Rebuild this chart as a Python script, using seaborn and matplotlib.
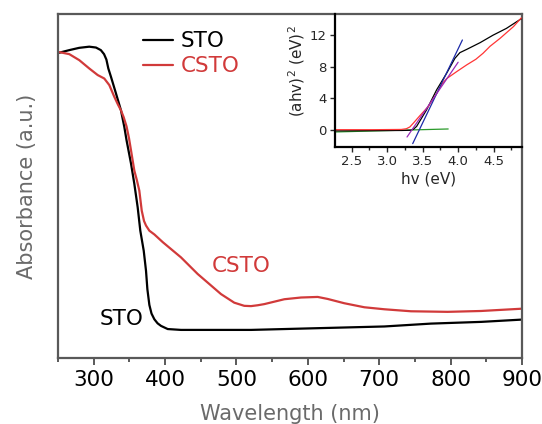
import matplotlib
matplotlib.use("Agg")
import matplotlib.pyplot as plt
from matplotlib.ticker import MultipleLocator
import seaborn as sns

# UV-vis absorbance spectra (arbitrary units)
wl_sto = [251.8, 265.8, 279.8, 293.8, 303.2, 310.0, 314.5, 317.8, 320.5, 324.2,
          331.2, 338.2, 342.9, 346.0, 352.3, 356.9, 361.6, 365.3, 370.1, 373.3,
          375.2, 378.0, 381.0, 385.0, 389.5, 394.3, 403.7, 422.3, 459.7, 520.4,
          613.8, 707.2, 772.5, 842.9, 900.0]
abs_sto = [1.065, 1.074, 1.082, 1.086, 1.083, 1.074, 1.060, 1.041, 1.010, 0.981,
           0.923, 0.864, 0.806, 0.760, 0.678, 0.608, 0.526, 0.444, 0.374, 0.304,
           0.240, 0.185, 0.155, 0.135, 0.121, 0.112, 0.101, 0.098, 0.098, 0.098,
           0.104, 0.110, 0.120, 0.126, 0.134]

wl_csto = [251.8, 265.8, 279.8, 293.8, 305.6, 314.8, 321.9, 328.9, 334.0, 338.2,
           342.0, 346.0, 349.5, 352.3, 356.9, 360.5, 363.9, 367.3, 370.5, 373.3,
           378.0, 385.0, 396.8, 422.3, 445.7, 459.7, 478.3, 496.9, 510.9, 520.4,
           529.8, 539.0, 567.1, 590.4, 613.8, 627.8, 651.1, 679.1, 707.2, 744.5,
           795.9, 842.6, 900.0]
abs_csto = [1.067, 1.060, 1.039, 1.010, 0.987, 0.975, 0.952, 0.911, 0.884, 0.864,
            0.840, 0.808, 0.766, 0.724, 0.654, 0.620, 0.584, 0.514, 0.478, 0.462,
            0.444, 0.431, 0.404, 0.351, 0.293, 0.263, 0.223, 0.193, 0.182, 0.181,
            0.184, 0.188, 0.205, 0.211, 0.213, 0.206, 0.191, 0.177, 0.170, 0.163,
            0.161, 0.164, 0.172]

# Tauc plot: (ahv)^2 versus photon energy
ev_sto = [2.27, 2.8, 3.2, 3.33, 3.37, 3.415, 3.556, 3.697, 3.838, 3.955, 4.025,
          4.12, 4.31, 4.49, 4.68, 4.89]
tauc_sto = [-0.15, -0.12, -0.1, -0.07, 0.05, 0.42, 2.53, 5.06, 7.17, 9.07, 9.79,
            10.2, 11.06, 12.0, 12.87, 14.1]
ev_csto = [2.27, 2.8, 3.2, 3.27, 3.32, 3.37, 3.46, 3.58, 3.70, 3.78, 3.84, 3.98,
           4.12, 4.25, 4.35, 4.45, 4.59, 4.78, 4.89]
tauc_csto = [0.0, 0.0, 0.03, 0.12, 0.35, 0.84, 1.77, 2.95, 4.64, 5.9, 6.5, 7.38,
             8.23, 8.95, 9.7, 10.6, 11.6, 13.1, 14.2]

# Linear extrapolations (end points) used for the band-gap estimate
fit_sto_ev, fit_sto_y = [3.36, 4.06], [-1.77, 11.4]
fit_csto_ev, fit_csto_y = [3.28, 4.0], [-0.93, 8.57]
base_ev, base_y = [2.265, 3.86], [-0.29, 0.09]

series_names = ["STO", "CSTO"]
x_ticks_main = [300, 400, 500, 600, 700, 800, 900]
x_ticks_inset = [2.5, 3.0, 3.5, 4.0, 4.5]
y_ticks_inset = [0, 4, 8, 12]

RED = "#d13a3a"
GREY = "#595959"
LABEL_GREY = "#6a6a6a"

sns.set_style("ticks")
plt.rcParams["font.family"] = ["DejaVu Sans"]

fig = plt.figure(figsize=(5.42, 4.24), dpi=100)
ax = fig.add_axes([58 / 542, (424 - 358) / 424, 464 / 542, 344 / 424])

sns.lineplot(x=wl_sto, y=abs_sto, ax=ax, color="black", lw=1.6,
             label=series_names[0], sort=False)
sns.lineplot(x=wl_csto, y=abs_csto, ax=ax, color=RED, lw=1.6,
             label=series_names[1], sort=False)
for ln in ax.get_lines():
    ln.set_solid_joinstyle("round")

ax.set_xlim(250, 900)
ax.set_ylim(0, 1.2)
ax.set_xticks(x_ticks_main)
ax.xaxis.set_minor_locator(MultipleLocator(50))
ax.set_yticks([])
for sp in ax.spines.values():
    sp.set_color(GREY)
    sp.set_linewidth(1.6)
ax.tick_params(axis="x", which="major", length=5, width=1.4, color=GREY,
               labelsize=15.5, pad=4, labelcolor="black")
ax.tick_params(axis="x", which="minor", length=3, width=1.4, color=GREY)
ax.set_xlabel("Wavelength (nm)", fontsize=15, color=LABEL_GREY, labelpad=10)
ax.set_ylabel("Absorbance (a.u.)", fontsize=15, color=LABEL_GREY, labelpad=15)

leg = ax.legend(loc="upper left", bbox_to_anchor=(0.183, 0.95), frameon=False,
                fontsize=15.5, handlelength=1.4, handletextpad=0.35,
                labelspacing=0.24, borderaxespad=0, borderpad=0)
for txt, c in zip(leg.get_texts(), ["black", RED]):
    txt.set_color(c)

ax.text(506, 0.322, "CSTO", color=RED, fontsize=15.5, ha="center", va="center")
ax.text(339, 0.136, "STO", color="black", fontsize=15.5, ha="center", va="center")

# Inset: Tauc plot
axi = fig.add_axes([335 / 542, (424 - 147) / 424, (522 - 335) / 542, (147 - 14) / 424])
sns.lineplot(x=base_ev, y=base_y, ax=axi, color="#2a9a2a", lw=0.9, sort=False)
sns.lineplot(x=ev_sto, y=tauc_sto, ax=axi, color="black", lw=0.9, sort=False)
sns.lineplot(x=ev_csto, y=tauc_csto, ax=axi, color="#ff3535", lw=0.9, sort=False)
sns.lineplot(x=fit_sto_ev, y=fit_sto_y, ax=axi, color="#1c2aa8", lw=0.9, sort=False)
sns.lineplot(x=fit_csto_ev, y=fit_csto_y, ax=axi, color="#9a2ab8", lw=0.9, sort=False)
axi.set_xlim(2.265, 4.9)
axi.set_ylim(-2.2, 14.7)
axi.set_xticks(x_ticks_inset)
axi.xaxis.set_minor_locator(MultipleLocator(0.25))
axi.set_yticks(y_ticks_inset)
axi.spines["top"].set_visible(False)
axi.spines["right"].set_visible(False)
axi.spines["left"].set_linewidth(1.6)
axi.spines["bottom"].set_linewidth(1.6)
axi.spines["left"].set_color("black")
axi.spines["bottom"].set_color("black")
axi.patch.set_alpha(0)
axi.tick_params(which="major", length=3.5, width=1, labelsize=9.5, pad=2.5)
axi.tick_params(which="minor", length=2, width=1)
axi.set_xlabel("hv (eV)", fontsize=11, labelpad=2)
axi.set_ylabel("(ahv)$^2$ (eV)$^2$", fontsize=11, labelpad=0)
axi.yaxis.set_label_coords(-0.15, 0.57)

fig.savefig("out.png", dpi=100)
